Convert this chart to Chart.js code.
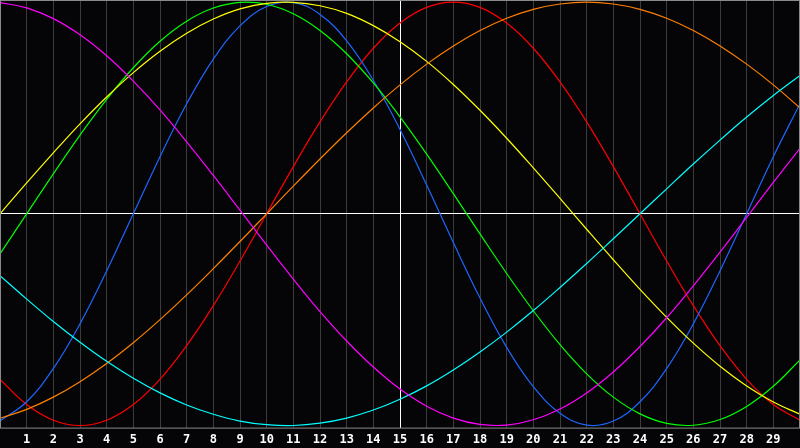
<!DOCTYPE html>
<html>
<head>
<meta charset="utf-8">
<style>
  html, body { margin: 0; padding: 0; background: #050508; }
  #wrap { width: 800px; height: 448px; }
</style>
<script src="https://cdn.jsdelivr.net/npm/chart.js@4.4.1/dist/chart.umd.min.js"></script>
</head>
<body>
<div id="wrap"><canvas id="bioChart"></canvas></div>
<script>
// days shown on the x axis (0 and 30 are the frame edges)
const days = [0,1,2,3,4,5,6,7,8,9,10,11,12,13,14,15,16,17,18,19,20,21,22,23,24,25,26,27,28,29,30];
const midDay = 15;

// curve values, one per day
const red     = [-0.782,-0.901,-0.975,-1,-0.975,-0.901,-0.782,-0.623,-0.434,-0.223,0,0.223,0.434,0.623,0.782,0.901,0.975,1,0.975,0.901,0.782,0.623,0.434,0.223,0,-0.223,-0.434,-0.623,-0.782,-0.901,-0.975];
const blue    = [-0.979,-0.888,-0.731,-0.520,-0.270,0,0.270,0.520,0.731,0.888,0.979,0.998,0.942,0.817,0.631,0.398,0.136,-0.136,-0.398,-0.631,-0.817,-0.942,-0.998,-0.979,-0.888,-0.731,-0.520,-0.270,0,0.270,0.520];
const green   = [-0.189,0,0.189,0.372,0.541,0.690,0.815,0.910,0.972,0.999,0.990,0.945,0.866,0.756,0.618,0.458,0.282,0.095,-0.095,-0.282,-0.458,-0.618,-0.756,-0.866,-0.945,-0.990,-0.999,-0.972,-0.910,-0.815,-0.690];
const yellow  = [0,0.146,0.288,0.425,0.552,0.667,0.768,0.853,0.920,0.968,0.994,0.999,0.983,0.947,0.889,0.813,0.720,0.611,0.489,0.357,0.217,0.073,-0.073,-0.217,-0.357,-0.489,-0.611,-0.720,-0.813,-0.889,-0.947];
const orange  = [-0.966,-0.924,-0.866,-0.793,-0.707,-0.609,-0.5,-0.383,-0.259,-0.131,0,0.131,0.259,0.383,0.5,0.609,0.707,0.793,0.866,0.924,0.966,0.991,1,0.991,0.966,0.924,0.866,0.793,0.707,0.609,0.5];
const cyan    = [-0.292,-0.403,-0.509,-0.607,-0.697,-0.777,-0.846,-0.903,-0.947,-0.979,-0.996,-1.0,-0.989,-0.965,-0.927,-0.876,-0.813,-0.738,-0.653,-0.559,-0.457,-0.348,-0.235,-0.118,0,0.118,0.235,0.348,0.457,0.559,0.653];
const magenta = [0.998,0.973,0.922,0.846,0.747,0.627,0.491,0.340,0.181,0.017,-0.148,-0.309,-0.462,-0.601,-0.724,-0.828,-0.909,-0.965,-0.995,-0.998,-0.973,-0.922,-0.846,-0.747,-0.627,-0.491,-0.340,-0.181,-0.017,0.148,0.309];

function series(values, color) {
    return {
        data: values.map((v, i) => ({ x: days[i], y: v })),
        borderColor: color,
        borderWidth: 1.2,
        pointRadius: 0,
        tension: 0.4,
        fill: false
    };
}

// grey frame round the plot area
const framePlugin = {
    id: 'frame',
    afterDraw(chart) {
        const a = chart.chartArea;
        const c = chart.ctx;
        c.save();
        c.strokeStyle = '#8a8a8a';
        c.lineWidth = 1;
        c.strokeRect(a.left + 0.5, a.top + 0.5, a.right - a.left - 1, a.bottom - a.top);
        c.restore();
    }
};

const ctx = document.getElementById('bioChart').getContext('2d');
new Chart(ctx, {
    type: 'line',
    data: {
        datasets: [
            series(magenta, '#ff00ff'),
            series(cyan, '#00ffff'),
            series(orange, '#ff8000'),
            series(yellow, '#ffff00'),
            series(green, '#00ff00'),
            series(blue, '#1e66ff'),
            series(red, '#ff0000')
        ]
    },
    options: {
        responsive: true,
        maintainAspectRatio: false,
        animation: false,
        layout: { padding: { left: 0, right: 0, top: 0, bottom: -4 } },
        plugins: { legend: { display: false }, tooltip: { enabled: false } },
        scales: {
            x: {
                type: 'linear',
                min: 0,
                max: 30,
                border: { display: false },
                // the frame runs to the canvas edges, no room kept for end labels
                afterFit: axis => { axis.paddingLeft = 0; axis.paddingRight = 0; },
                grid: {
                    drawTicks: false,
                    lineWidth: 1,
                    color: c => c.tick && c.tick.value === midDay ? '#ffffff' : '#3c3c3c'
                },
                ticks: {
                    stepSize: 1,
                    autoSkip: false,
                    maxRotation: 0,
                    padding: 5,
                    color: '#ffffff',
                    font: { family: 'DejaVu Sans Mono', size: 12, weight: 'bold' },
                    callback: v => (v === 0 || v === 30) ? '' : String(v)
                }
            },
            y: {
                min: -1.01,
                max: 1.01,
                border: { display: false },
                afterBuildTicks: axis => { axis.ticks = [{ value: 0 }]; },
                grid: { drawTicks: false, color: '#ffffff', lineWidth: 1 },
                ticks: { display: false }
            }
        }
    },
    plugins: [framePlugin]
});
</script>
</body>
</html>
